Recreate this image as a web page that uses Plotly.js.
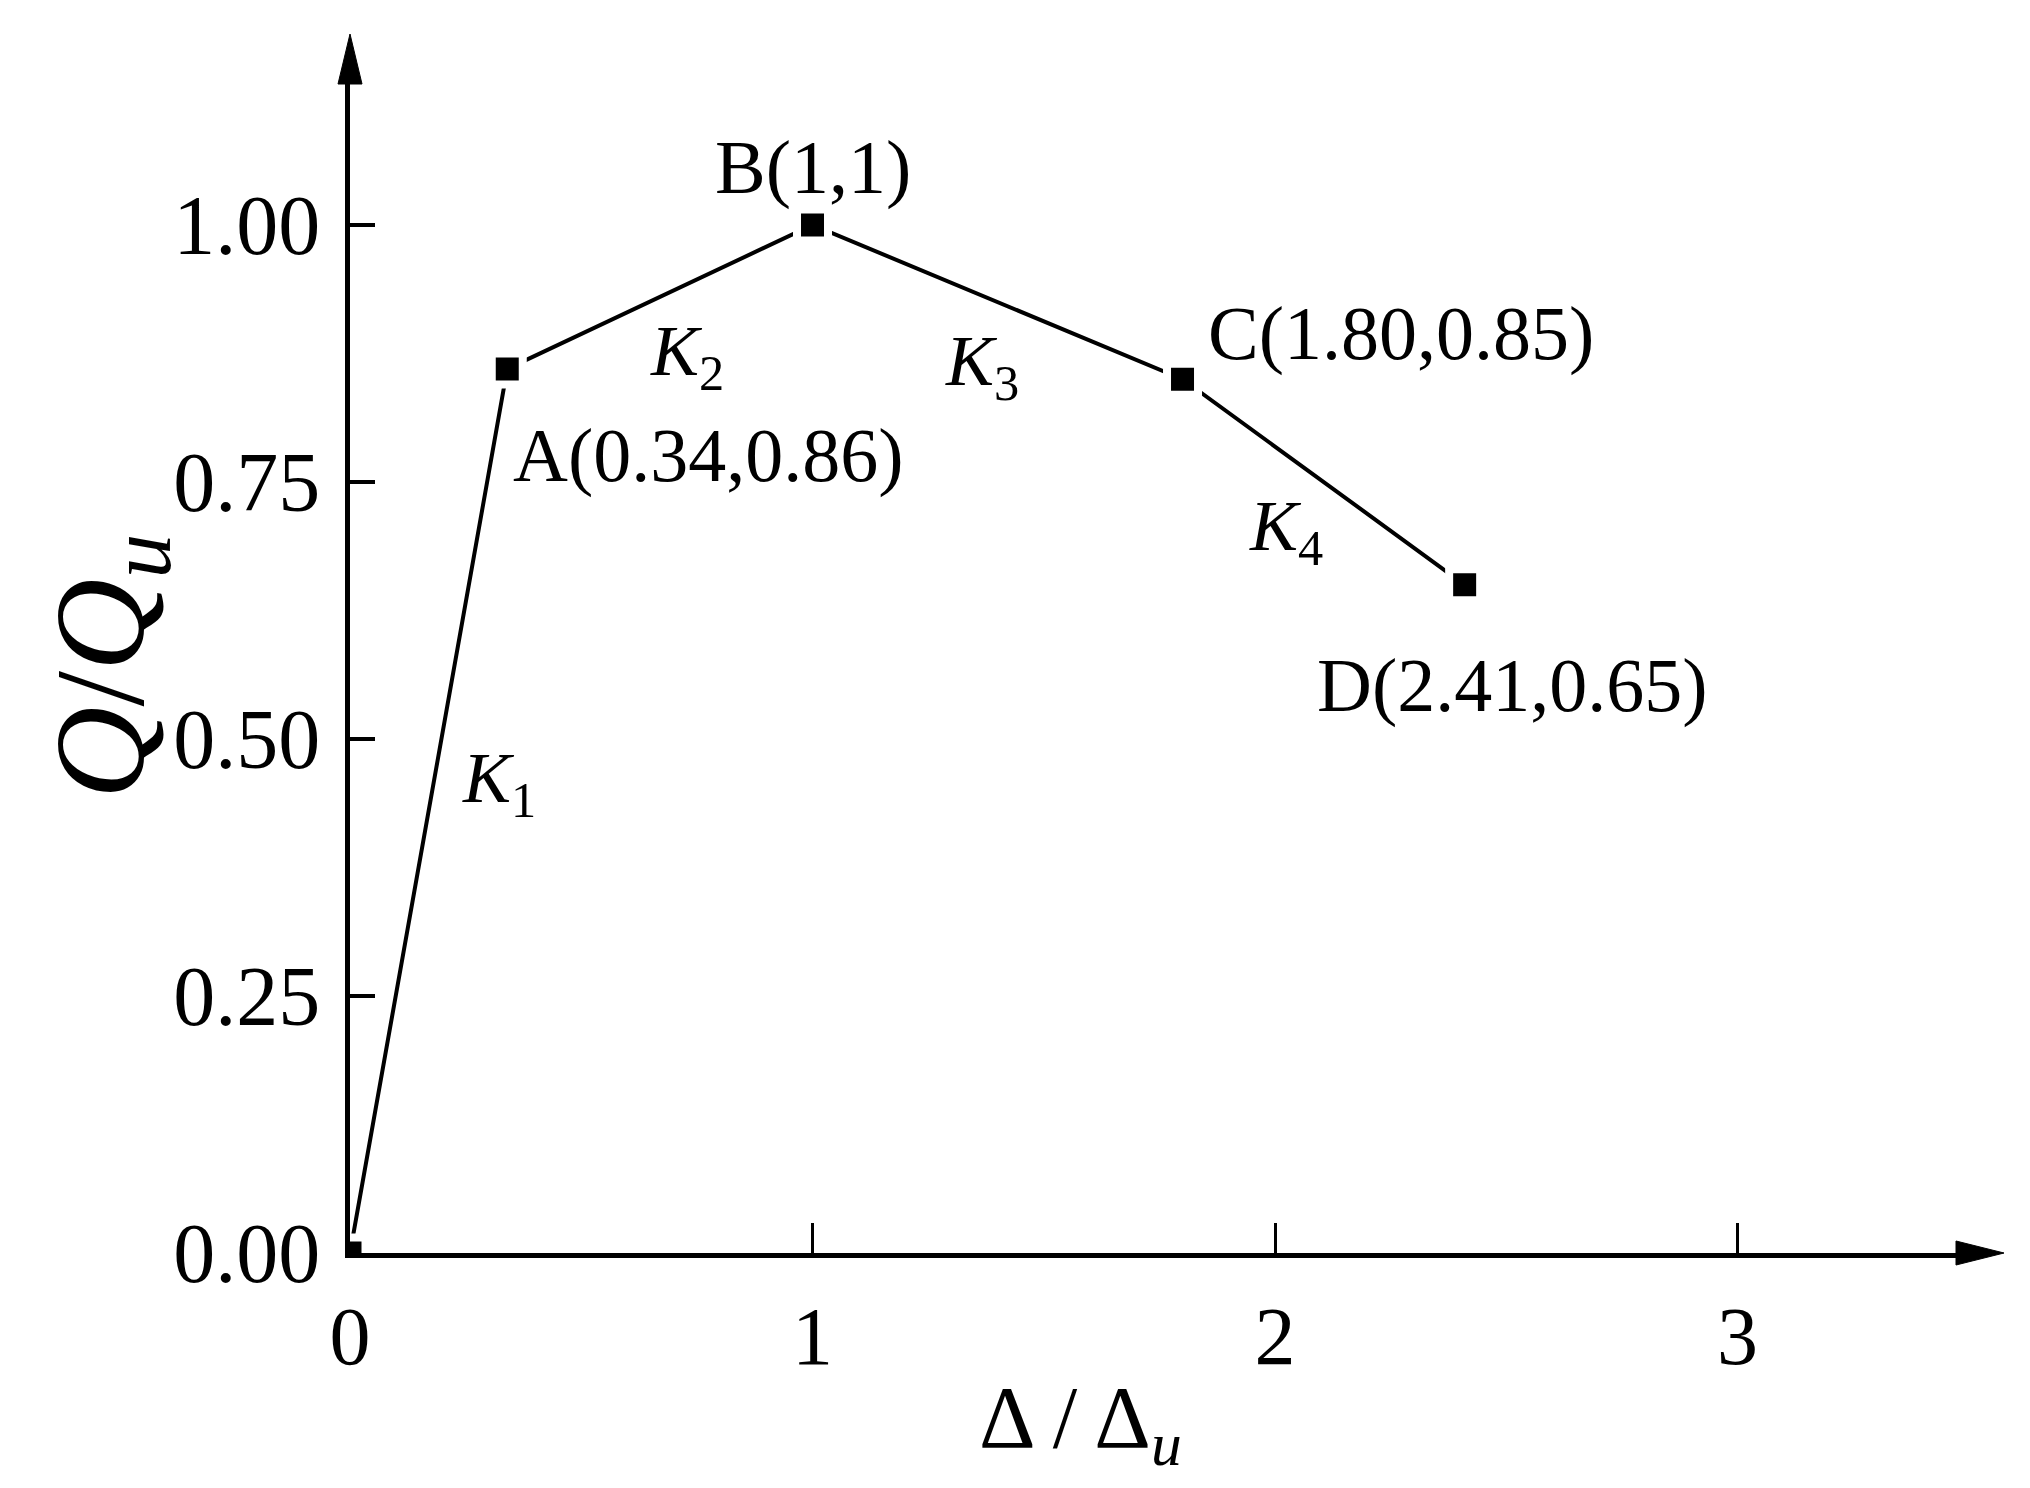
<!DOCTYPE html>
<html>
<head>
<meta charset="utf-8">
<script src="https://cdn.plot.ly/plotly-3.0.1.min.js"></script>
<style>
  html, body { margin: 0; padding: 0; background: #fff; }
  #chart { width: 2030px; height: 1488px; }
</style>
</head>
<body>
<div id="chart"></div>
<script>
// Simplified skeleton curve: normalised load vs normalised displacement
const pointNames = ['O', 'A', 'B', 'C', 'D'];
const dispRatio = [0, 0.34, 1, 1.80, 2.41];
const loadRatio = [0, 0.86, 1, 0.85, 0.65];
const pointTags = ['', 'A(0.34,0.86)', 'B(1,1)', 'C(1.80,0.85)', 'D(2.41,0.65)'];
const stiffnessTags = ['1', '2', '3', '4'];
const xTickVals = [0, 1, 2, 3];
const xTickText = ['0', '1', '2', '3'];
const yTickVals = [0, 0.25, 0.5, 0.75, 1.0];
const yTickText = ['0.00', '0.25', '0.50', '0.75', '1.00'];

const serif = 'Liberation Serif, Times New Roman, serif';

// label offsets in px, relative to the point / segment midpoint they belong to
const tagShift = {
  A: [201, -87],
  B: [0, 57],
  C: [218, 46],
  D: [48, -101]
};
const kShift = [[70, 28], [27, -59], [-16, -64], [-38, -49]];

const trace = {
  x: dispRatio,
  y: loadRatio,
  type: 'scatter',
  mode: 'lines+markers',
  line: { color: '#000', width: 4 },
  marker: { symbol: 'square', size: 31, color: '#000', line: { color: '#fff', width: 8 } },
  hoverinfo: 'x+y',
  showlegend: false
};

const annotations = [];

pointNames.forEach((name, i) => {
  if (!pointTags[i]) return;
  const s = tagShift[name];
  annotations.push({
    x: dispRatio[i], y: loadRatio[i], xref: 'x', yref: 'y',
    text: pointTags[i], showarrow: false,
    xanchor: 'center', yanchor: 'middle',
    xshift: s[0], yshift: s[1],
    font: { family: serif, size: 76, color: '#000' }
  });
});

stiffnessTags.forEach((k, i) => {
  annotations.push({
    x: (dispRatio[i] + dispRatio[i + 1]) / 2,
    y: (loadRatio[i] + loadRatio[i + 1]) / 2,
    xref: 'x', yref: 'y',
    text: '<i>K</i><sub>' + k + '</sub>', showarrow: false,
    xanchor: 'center', yanchor: 'middle',
    xshift: kShift[i][0], yshift: kShift[i][1],
    font: { family: serif, size: 72, color: '#000' }
  });
});

// axis titles
annotations.push({
  x: 0.4535, y: -0.145, xref: 'paper', yref: 'paper',
  text: 'Δ / Δ<sub><i>u</i></sub>', showarrow: false,
  xanchor: 'center', yanchor: 'middle',
  font: { family: serif, size: 88, color: '#000' }
});
annotations.push({
  x: -0.15, y: 0.5, xref: 'paper', yref: 'paper',
  text: '<i>Q</i>/<i>Q</i><sub><i>u</i></sub>', showarrow: false,
  textangle: -90, xanchor: 'center', yanchor: 'middle',
  font: { family: serif, size: 128, color: '#000' }
});

// arrow heads at the ends of both axes
const shapes = [
  {
    type: 'path', xref: 'paper', yref: 'paper',
    xsizemode: 'pixel', ysizemode: 'pixel', xanchor: 1, yanchor: 0,
    path: 'M-4,-12 L44,0 L-4,12 Z',
    fillcolor: '#000', line: { color: '#000', width: 1 }
  },
  {
    type: 'path', xref: 'paper', yref: 'paper',
    xsizemode: 'pixel', ysizemode: 'pixel', xanchor: 0, yanchor: 1,
    path: 'M-12,-4 L0,46 L12,-4 Z',
    fillcolor: '#000', line: { color: '#000', width: 1 }
  }
];

const layout = {
  width: 2030,
  height: 1488,
  paper_bgcolor: '#fff',
  plot_bgcolor: '#fff',
  margin: { l: 350, r: 70, t: 80, b: 235 },
  showlegend: false,
  xaxis: {
    range: [0, 3.481],
    tickvals: xTickVals, ticktext: xTickText,
    ticks: 'inside', ticklen: 30, tickwidth: 3, tickcolor: '#000',
    ticklabelstandoff: 8,
    showline: true, linecolor: '#000', linewidth: 5,
    showgrid: false, zeroline: false,
    tickfont: { family: serif, size: 82, color: '#000' }
  },
  yaxis: {
    range: [0, 1.141],
    tickvals: yTickVals, ticktext: yTickText,
    ticks: 'inside', ticklen: 25, tickwidth: 4, tickcolor: '#000',
    ticklabelstandoff: 8,
    showline: true, linecolor: '#000', linewidth: 5,
    showgrid: false, zeroline: false,
    tickfont: { family: serif, size: 84, color: '#000' }
  },
  annotations: annotations,
  shapes: shapes
};

Plotly.newPlot('chart', [trace], layout, { displayModeBar: false, staticPlot: true });
</script>
</body>
</html>
